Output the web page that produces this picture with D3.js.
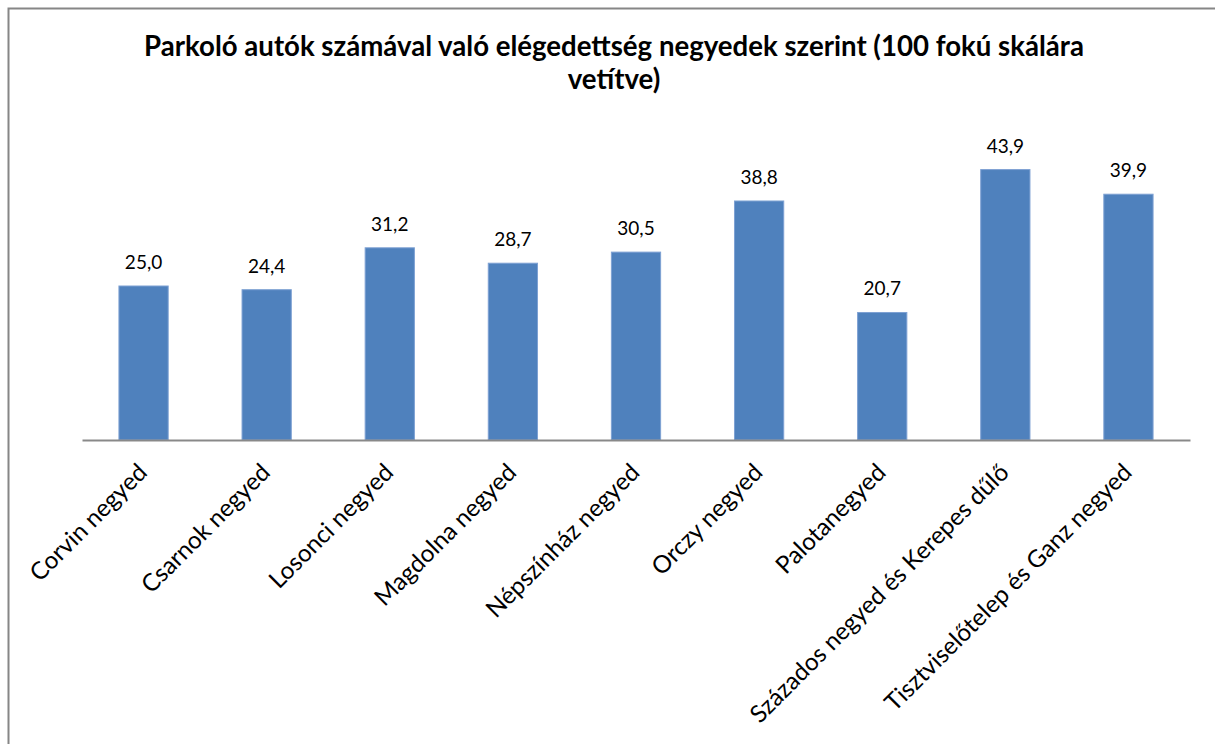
<!DOCTYPE html>
<meta charset="utf-8">
<style>
body { margin: 0; background: #fff; }
text { font-family: Lato, "Open Sans", sans-serif; fill: #000; }
.bar { fill: #4f81bd; stroke: #7ea1d3; stroke-width: 1; }
</style>
<body>
<script src="https://d3js.org/d3.v7.min.js"></script>
<script>

// data
var categories = ["Corvin negyed", "Csarnok negyed", "Losonci negyed", "Magdolna negyed",
  "Népszínház negyed", "Orczy negyed", "Palotanegyed", "Százados negyed és Kerepes dűlő",
  "Tisztviselőtelep és Ganz negyed"];
var values = [25.0, 24.4, 31.2, 28.7, 30.5, 38.8, 20.7, 43.9, 39.9];
var titleLines = ["Parkoló autók számával való elégedettség negyedek szerint (100 fokú skálára", "vetítve)"];

var width = 1215, height = 744;
var margin = {top: 132, left: 82, right: 25, bottom: 304};

var svg = d3.select("body").append("svg")
    .attr("width", width)
    .attr("height", height);

// chart border (only top and left visible in the picture)
svg.append("rect")
    .attr("x", 8.5).attr("y", 8.5)
    .attr("width", width + 20).attr("height", height + 20)
    .attr("fill", "none")
    .attr("stroke", "#868686")
    .attr("stroke-width", 2);

var x = d3.scaleBand()
    .domain(categories)
    .range([margin.left, width - margin.right])
    .paddingInner(0.6)
    .paddingOuter(0.3);

var y = d3.scaleLinear()
    .domain([0, 50])
    .range([height - margin.bottom, margin.top]);

// title
svg.append("g").selectAll("text")
    .data(titleLines)
  .enter().append("text")
    .attr("x", 614)
    .attr("y", function(d, i) { return 56 + i * 33; })
    .attr("text-anchor", "middle")
    .style("font-weight", "bold")
    .style("font-size", "27.6px")
    .text(function(d) { return d; });

// bars
svg.selectAll(".bar")
    .data(values)
  .enter().append("rect")
    .attr("class", "bar")
    .attr("x", function(d, i) { return x(categories[i]); })
    .attr("width", x.bandwidth())
    .attr("y", function(d) { return y(d); })
    .attr("height", function(d) { return y(0) - y(d); });

// value labels
var fmt = function(v) { return v.toFixed(1).replace(".", ","); };
svg.selectAll(".val")
    .data(values)
  .enter().append("text")
    .attr("class", "val")
    .attr("x", function(d, i) { return x(categories[i]) + x.bandwidth() / 2; })
    .attr("y", function(d) { return y(d) - 17; })
    .attr("text-anchor", "middle")
    .style("font-size", "19px")
    .text(fmt);

// x axis
var xAxis = svg.append("g")
    .attr("transform", "translate(0," + y(0) + ")")
    .call(d3.axisBottom(x).tickSize(0).tickSizeOuter(0).tickPadding(0));

xAxis.select(".domain")
    .attr("stroke", "#898989")
    .attr("stroke-width", 2);

xAxis.selectAll(".tick text")
    .attr("x", 0).attr("y", 0).attr("dy", 0)
    .attr("text-anchor", "end")
    .attr("transform", "translate(5,34) rotate(-45)")
    .style("font-size", "24.2px")
    .style("font-family", "Lato, sans-serif")
    .attr("fill", "#000");

</script>
</body>
